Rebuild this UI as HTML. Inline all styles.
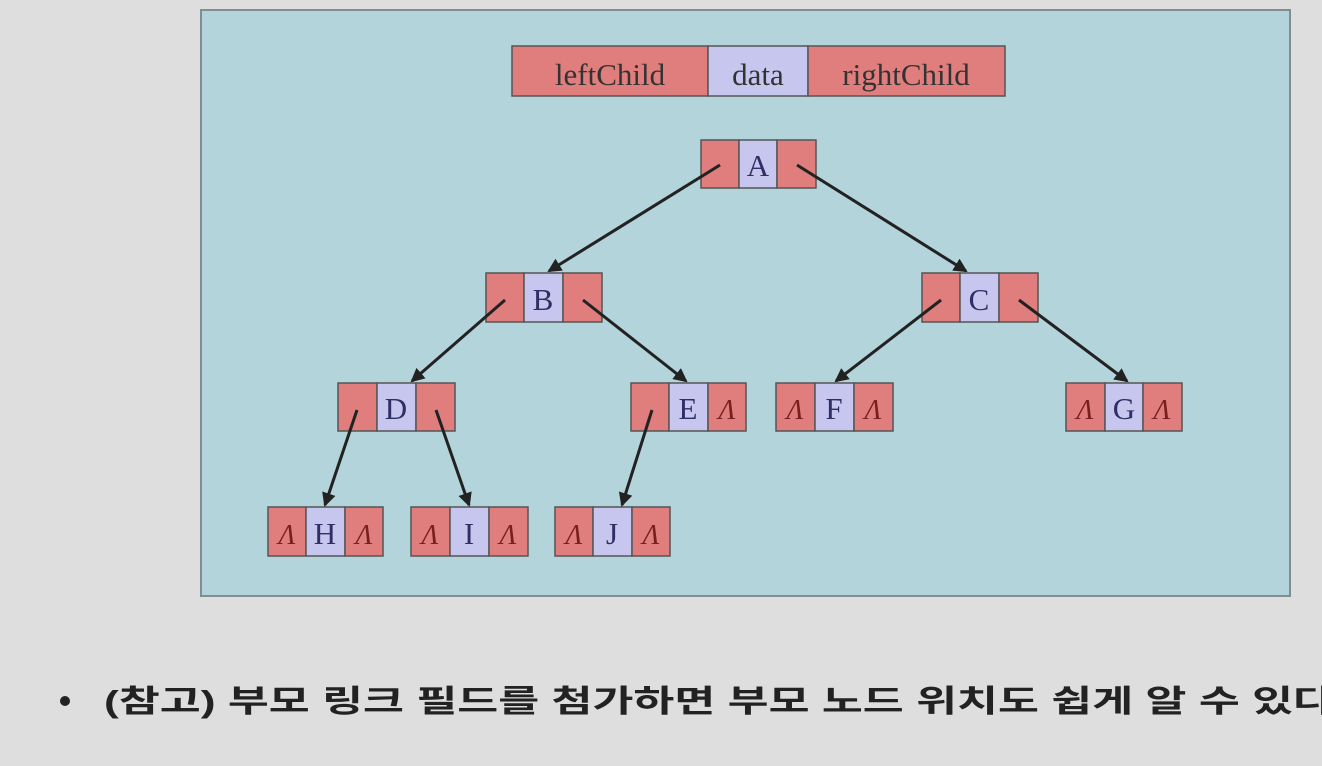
<!DOCTYPE html><html><head><style>html,body{margin:0;width:1322px;height:766px;background:#dedede;overflow:hidden;font-family:"Liberation Serif",serif}</style></head><body>
<svg width="1322" height="766" xmlns="http://www.w3.org/2000/svg" style="display:block">
<defs><marker id="a" markerWidth="14" markerHeight="14" refX="12" refY="7" orient="auto" markerUnits="userSpaceOnUse"><path d="M0,0L14,7L0,14z" fill="#222"/></marker></defs>
<rect x="201" y="10" width="1089" height="586" fill="#b3d4da" stroke="#7e8e92" stroke-width="2"/>
<g stroke="#555" stroke-width="1.5">
<rect x="512" y="46" width="196" height="50" fill="#e07d7d"/><rect x="708" y="46" width="100" height="50" fill="#c6c6ee"/><rect x="808" y="46" width="197" height="50" fill="#e07d7d"/>
</g>
<g font-size="31" fill="#333" text-anchor="middle"><text x="610" y="85">leftChild</text><text x="758" y="85">data</text><text x="906" y="85">rightChild</text></g>
<g stroke="#555" stroke-width="1.5">
<rect x="701" y="140" width="38" height="48" fill="#e07d7d"/><rect x="739" y="140" width="38" height="48" fill="#c6c6ee"/><rect x="777" y="140" width="39" height="48" fill="#e07d7d"/>
<rect x="486" y="273" width="38" height="49" fill="#e07d7d"/><rect x="524" y="273" width="39" height="49" fill="#c6c6ee"/><rect x="563" y="273" width="39" height="49" fill="#e07d7d"/>
<rect x="922" y="273" width="38" height="49" fill="#e07d7d"/><rect x="960" y="273" width="39" height="49" fill="#c6c6ee"/><rect x="999" y="273" width="39" height="49" fill="#e07d7d"/>
<rect x="338" y="383" width="39" height="48" fill="#e07d7d"/><rect x="377" y="383" width="39" height="48" fill="#c6c6ee"/><rect x="416" y="383" width="39" height="48" fill="#e07d7d"/>
<rect x="631" y="383" width="38" height="48" fill="#e07d7d"/><rect x="669" y="383" width="39" height="48" fill="#c6c6ee"/><rect x="708" y="383" width="38" height="48" fill="#e07d7d"/>
<rect x="776" y="383" width="39" height="48" fill="#e07d7d"/><rect x="815" y="383" width="39" height="48" fill="#c6c6ee"/><rect x="854" y="383" width="39" height="48" fill="#e07d7d"/>
<rect x="1066" y="383" width="39" height="48" fill="#e07d7d"/><rect x="1105" y="383" width="38" height="48" fill="#c6c6ee"/><rect x="1143" y="383" width="39" height="48" fill="#e07d7d"/>
<rect x="268" y="507" width="38" height="49" fill="#e07d7d"/><rect x="306" y="507" width="39" height="49" fill="#c6c6ee"/><rect x="345" y="507" width="38" height="49" fill="#e07d7d"/>
<rect x="411" y="507" width="39" height="49" fill="#e07d7d"/><rect x="450" y="507" width="39" height="49" fill="#c6c6ee"/><rect x="489" y="507" width="39" height="49" fill="#e07d7d"/>
<rect x="555" y="507" width="38" height="49" fill="#e07d7d"/><rect x="593" y="507" width="39" height="49" fill="#c6c6ee"/><rect x="632" y="507" width="38" height="49" fill="#e07d7d"/>
</g>
<g font-size="31" fill="#2f2f66" text-anchor="middle">
<text x="758" y="176">A</text><text x="543" y="310">B</text><text x="979" y="310">C</text><text x="396" y="419">D</text><text x="688" y="419">E</text><text x="834" y="419">F</text><text x="1124" y="419">G</text><text x="325" y="544">H</text><text x="469" y="544">I</text><text x="612" y="544">J</text>
</g>
<g font-size="28" fill="#7a1f1f" font-style="italic" text-anchor="middle">
<text x="727" y="419">Λ</text><text x="795" y="419">Λ</text><text x="873" y="419">Λ</text><text x="1085" y="419">Λ</text><text x="1162" y="419">Λ</text>
<text x="287" y="544">Λ</text><text x="364" y="544">Λ</text><text x="430" y="544">Λ</text><text x="508" y="544">Λ</text><text x="574" y="544">Λ</text><text x="651" y="544">Λ</text>
</g>
<g stroke="#222" stroke-width="3" marker-end="url(#a)">
<line x1="720" y1="165" x2="549" y2="271"/><line x1="797" y1="165" x2="966" y2="271"/>
<line x1="505" y1="300" x2="412" y2="381"/><line x1="583" y1="300" x2="686" y2="381"/>
<line x1="941" y1="300" x2="836" y2="381"/><line x1="1019" y1="300" x2="1127" y2="381"/>
<line x1="357" y1="410" x2="325" y2="505"/><line x1="436" y1="410" x2="469" y2="505"/>
<line x1="652" y1="410" x2="622" y2="505"/>
</g>
<circle cx="65" cy="701" r="5" fill="#222"/>
<text x="104" y="712" font-size="31" font-weight="bold" fill="#222" style='font-family:"Liberation Sans","Noto Sans CJK KR",sans-serif' textLength="1230" lengthAdjust="spacingAndGlyphs">(참고) 부모 링크 필드를 첨가하면 부모 노드 위치도 쉽게 알 수 있다</text>
</svg>
</body></html>
